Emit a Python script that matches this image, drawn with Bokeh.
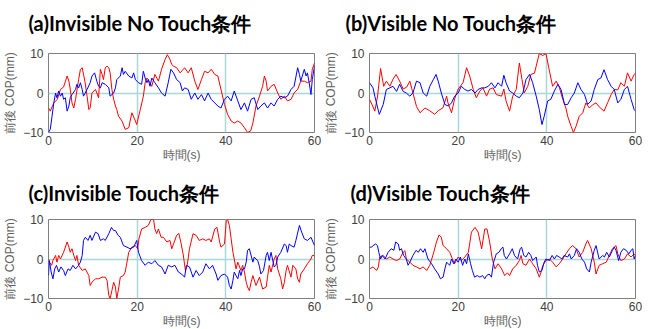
from bokeh.plotting import figure
from bokeh.layouts import row, column
from bokeh.models import FixedTicker, Range1d, Title
from bokeh.embed import file_html
from bokeh.resources import INLINE

X_TICKS = [0, 20, 40, 60]
Y_TICKS = [-10, 0, 10]
X_GRID = [20, 40]
Y_GRID = [0]
TITLES = ["(a)Invisible No Touch条件", "(b)Visible No Touch条件",
          "(c)Invisible Touch条件", "(d)Visible Touch条件"]
X_LABEL = "時間(s)"
Y_LABEL = "前後 COP(mm)"

# (time s, COP mm)
A_RED = [(0,-3.8),(0.4,-4.6),(1.2,-2.5),(2,-1.6),(2.7,0.9),(3.4,1.5),(4.2,4.3),(4.6,3),(4.9,1),(5.3,-2.5),(5.7,-3.8),(6.1,-1.6),(6.8,3.4),(7.2,6),(7.6,6.4),(8.2,3),(8.7,-0.8),(9.1,-4.2),(9.4,-3.8),(9.8,0),(10.6,0.9),(11.3,-1.2),(11.7,6),(12.1,4.7),(12.4,3.4),(12.8,6.4),(13.2,6.8),(13.6,6.4),(13.9,5.1),(14.3,0.9),(14.7,-1.6),(15.1,-3.3),(15.4,-4.2),(15.8,-5.9),(16.6,-7.1),(17.3,-9.2),(18.1,-8.8),(18.8,-5),(19.6,-7.1),(19.9,-8),(20.7,-4.2),(21.4,-0.8),(21.8,2.6),(22.2,3.8),(22.5,3.4),(23.3,1.7),(24,4.7),(24.8,3),(25.5,6),(26.3,8.5),(26.8,9.7),(27.4,8.5),(27.8,7.2),(28.2,6.8),(28.9,6.4),(29.7,5.1),(30.4,6),(30.7,6.4),(31.5,5.1),(32.2,6.4),(33,3),(33.7,0.9),(34.5,3.4),(35.2,5.5),(36,5.1),(36.7,6),(37.5,4.7),(38.2,4.3),(38.9,0.9),(39.7,-2.9),(40.4,-5.4),(41.2,-7.1),(41.9,-7.6),(42.7,-7.1),(43.4,-7.6),(44.2,-8.8),(44.9,-10),(45.6,-9.6),(46.1,-7.6),(46.8,-3.3),(47.6,-0.8),(48.3,1.7),(48.7,4.3),(49.1,3),(49.4,0.5),(50.2,1.7),(50.9,2.2),(51.7,0),(52.4,-1.6),(53.2,-0.8),(53.9,-2),(54.7,-1.6),(55.4,0),(56.2,0.9),(56.9,3),(57.7,3),(58.4,2.6),(59.2,3),(59.5,6),(60,7.6)]
A_BLUE = [(0,-10),(0.4,-9.2),(0.8,-5.9),(1.2,-2.5),(1.6,0),(1.9,-1.2),(2.3,0.5),(2.7,-0.8),(3.1,0),(3.4,-1.6),(3.8,-1.2),(4.2,-4.6),(4.6,-3.3),(4.9,-1.2),(5.3,-0.4),(6.1,0.9),(6.4,2.2),(6.8,1.3),(7.2,2.6),(7.6,0.9),(7.9,-0.8),(8.7,0.9),(9.4,2.6),(9.8,4.3),(10.4,5.1),(10.9,3),(11.3,1.7),(11.7,1.3),(12.1,2.6),(12.8,2.2),(13.6,1.3),(13.9,-0.8),(14.7,0),(15.1,1.3),(15.4,3.4),(16.2,4.3),(16.6,6.4),(16.9,4.7),(17.3,5.5),(18.1,4.3),(18.8,3.8),(19.2,5.1),(19.6,3.4),(20.3,2.6),(21,2.2),(21.4,5.5),(21.8,3.8),(22.2,2.6),(22.5,3.4),(22.9,1.7),(23.3,3.8),(24,2.6),(24.8,1.3),(25.5,0),(26.3,-0.8),(27,2.6),(27.6,6),(28.2,5.1),(28.9,3.4),(29.7,2.6),(30.2,0.5),(30.7,1.3),(31.5,0.9),(32.2,-1.6),(33,0),(33.7,-1.6),(34.5,-0.4),(35.2,-2),(36,0),(36.7,-1.6),(37.5,-2.5),(38.2,-3.3),(38.9,-3.8),(39.7,-1.6),(40.4,-0.8),(41.2,-2),(41.9,0.5),(42.7,-2),(43.4,-4.2),(44.2,-2.5),(44.9,-4.6),(45.7,-1.6),(46.4,-1.2),(47.2,-4.2),(47.9,-3.3),(48.7,-2.5),(49.4,-3.8),(50.2,-2.5),(50.9,-3.3),(51.7,-1.6),(52.4,-0.8),(53.2,-1.2),(53.9,-0.8),(54.7,0.9),(55.4,1.7),(56.2,6.4),(56.6,4.7),(56.9,3),(57.7,6),(58.1,4.3),(58.4,5.1),(58.8,2.6),(59.2,-0.4),(59.5,3.4),(60,6.8)]
B_RED = [(0,-1.6),(0.6,-3),(1.2,-4.6),(1.8,-1),(2.5,6.2),(3.2,1.7),(3.8,3),(4.6,1.7),(5.3,3.5),(6,4.7),(6.8,3),(7.6,1),(8.4,1.5),(9.1,3),(9.8,0),(10.6,-3.4),(11.4,-5),(12.5,-3.8),(13.6,-4.5),(14.7,-5.4),(15.5,-4.5),(16.6,-3.7),(17.4,-0.8),(17.7,-2.5),(18.5,-5),(19.2,-1.5),(20,1),(21.1,2.6),(21.9,6.4),(22.6,4.3),(23.4,0.9),(24.1,-1.2),(24.9,0.5),(25.6,1.3),(26.4,-0.8),(27.1,1),(27.9,1.3),(28.6,-0.4),(29.8,-0.8),(30.3,1),(30.8,-2),(31.6,-4.6),(32.3,-0.8),(33.1,0.9),(33.8,7.6),(34.4,3.4),(34.9,0),(35.7,1.7),(36.4,4.7),(37.2,5),(37.6,6.8),(38.3,10),(39.1,9.5),(39.8,10),(40.6,5.5),(41.3,1.7),(42.1,3),(42.8,1.5),(43.6,-1.6),(44.3,-3.8),(44.7,-5.9),(45.5,-8.5),(46,-10),(46.6,-8.4),(47.3,-5.9),(48.1,-5),(48.8,-2.5),(49.6,-3.8),(50.3,-3),(51.1,-2.5),(51.8,-3.5),(52.9,-4.6),(53.7,-2.5),(54.5,-0.4),(55.2,0.9),(56,0.8),(56.7,2.6),(57.5,1.7),(58.2,5.1),(59,3),(59.7,4.7),(60,5)]
B_BLUE = [(0,2.6),(0.8,1.3),(1.2,-0.8),(2.2,-5.4),(3.1,-2.9),(3.8,0.9),(4.6,1.3),(5.3,1.7),(6.1,0.4),(6.8,2.2),(7.6,0.4),(8.3,0),(9.1,-0.8),(9.8,0),(10.6,3),(11.4,2.6),(12.1,0),(12.9,-0.8),(13.6,1.7),(14.4,3.4),(15,4.7),(15.5,3),(16.2,0),(17,-2.9),(17.8,-3.3),(18.5,-2.5),(19.2,-0.8),(20,0),(20.7,1.7),(21.5,0.9),(22.2,0.5),(23,0.9),(23.8,0),(24.5,0.9),(25.3,1.3),(26,1.3),(26.8,1.7),(27.5,2.6),(28.3,1.3),(29,2.6),(29.8,1.7),(30.3,4.5),(30.8,2.6),(31.6,0.5),(32.3,0),(33.1,-0.8),(33.8,-1.2),(34.6,0),(35.3,3.4),(36.1,4.7),(36.8,2.6),(37.6,-0.8),(38.3,-4.2),(38.9,-8),(39.4,-5.9),(40.2,-2),(40.9,-1.6),(41.7,0.5),(42.5,2.2),(43.2,0.9),(44,-2.9),(44.7,-2.9),(45.5,-1.2),(46.2,0),(47,2.6),(47.7,0.9),(48.5,-0.4),(49.2,-2.9),(50,-2),(50.7,0.9),(51.5,3.4),(52.2,3.8),(52.9,5.9),(53.7,3.4),(54.5,1.7),(55.2,0.9),(56,-2.5),(56.7,-1.6),(57.5,0.9),(58.2,1.7),(59,-1.6),(59.7,-4.2),(60,-4.6)]
C_RED = [(0,0),(0.2,-0.8),(0.7,-1.6),(1,-0.4),(1.6,0.9),(1.9,-0.8),(2.3,0.9),(2.7,0),(3.4,1.7),(4.2,4.3),(4.6,3),(4.9,1.7),(5.3,2.6),(5.7,0.9),(6.1,-0.4),(6.4,0.9),(6.8,-1.6),(7.6,-2.9),(8.3,-2.5),(9.1,-4.2),(9.4,-6.7),(9.8,-5.9),(10.6,-5),(11.3,-5),(12.1,-4.6),(12.8,-4.6),(13.2,-5.4),(13.6,-9.2),(13.9,-10),(14.3,-8),(14.7,-5.9),(15.1,-7.1),(15.4,-10),(15.8,-7.6),(16.2,-4.6),(16.9,-4.2),(17.3,-3.3),(17.7,-0.8),(18.1,1.7),(18.8,3),(19.6,3.4),(20.1,2.6),(20.4,5.1),(21,7.6),(21.8,8),(22.5,8.5),(23.1,10),(23.7,10),(24,7.6),(24.4,6.4),(24.8,7.6),(25.4,5.5),(25.9,5.5),(26.7,4.3),(27.4,4.7),(27.8,2.6),(28.2,3.8),(28.9,6),(29.4,6.5),(29.9,4),(30.4,1),(30.9,-3),(31.3,-1.5),(31.8,2.6),(32.6,6.4),(33.3,6),(34,4.7),(34.8,5.1),(35.5,4.7),(36.3,5.1),(36.7,4.3),(37.5,7.6),(38,8),(38.2,6.8),(38.6,4.3),(38.9,3),(39.7,3.8),(40.1,9.7),(40.4,10),(40.8,8.5),(41.2,5.1),(41.6,1.7),(41.9,0),(42.3,-2.5),(42.7,-0.8),(43.4,-2.9),(43.8,-1.6),(44.2,-3.3),(44.6,-5.9),(44.9,-7.1),(45.3,-8),(45.7,-5.9),(46.1,-4.2),(46.8,-6.7),(47.6,-4.6),(48.3,-7.6),(49.1,-7.1),(49.4,-4.6),(49.8,-1.6),(50.2,-3.3),(50.9,0),(51.3,0.9),(51.7,-2.5),(52.4,-5),(52.8,-7.6),(53.2,-5.9),(53.6,-2.9),(53.9,-1.6),(54.7,-4.6),(55.1,-1.6),(55.8,-2.5),(56.2,-5),(56.6,-5.9),(56.9,-3.8),(57.7,-2.5),(58.4,-1.2),(59.2,0),(59.5,0.9),(60,0.9)]
C_BLUE = [(0,-4.2),(0.2,-0.4),(0.6,-3.3),(1,-5),(1.4,-2.5),(1.8,-1.6),(2.3,-3.3),(2.8,-2),(3.4,-2.9),(3.8,-4.2),(4.4,-2.5),(4.9,-2.9),(5.5,-1.6),(6.1,-2.5),(6.8,-1.6),(7.2,-0.8),(7.6,0.9),(7.9,4.7),(8.3,5.5),(8.9,4.7),(9.4,6),(9.8,4.7),(10.6,6.8),(11.2,6.4),(11.7,4.7),(12.4,5.1),(12.8,4.7),(13.6,6.4),(14.2,8),(14.7,7.2),(15.1,7.2),(15.7,6),(16.2,5.5),(16.9,3.4),(17.7,3),(18.4,2.6),(19.2,3),(19.9,4.7),(20.3,1.7),(21,-0.4),(21.8,-1.6),(22.5,-0.8),(23.3,-1.2),(24,-0.4),(24.8,-1.6),(25.5,-2),(26.3,-3.8),(27,-1.6),(27.8,-2),(28.5,-1.6),(29.3,-3.3),(30,-3.8),(30.7,-4.6),(31.1,-1.6),(31.8,-2),(32.6,-4.6),(33.3,-2.9),(34,-4.2),(34.8,-3.3),(35.5,-1.2),(36.3,-2.5),(37,-1.6),(37.8,-3.8),(38.2,-5.4),(38.9,-4.2),(39.7,-3.8),(40.4,-4.6),(40.8,-6.7),(41.2,-7.6),(41.6,-5.4),(41.9,-3.3),(42.3,-4.2),(42.7,-5),(43.1,-2.9),(43.4,-4.2),(43.8,-2.5),(44.2,-2.5),(44.6,-0.8),(44.9,2.2),(45.3,2.6),(46.1,-0.8),(46.4,0.5),(46.8,0),(47.2,-0.4),(47.6,-2),(47.9,-3.8),(48.5,-2.9),(49.1,0.9),(49.4,1.7),(49.8,-0.4),(50.2,1.7),(50.9,-2),(51.3,-1.6),(51.7,0.5),(52.4,1.7),(53.2,3.8),(53.6,3.4),(53.9,1.7),(54.3,3.8),(54.7,3.4),(55.4,3),(55.8,4.7),(56.6,8.5),(57.1,6.8),(57.7,5.1),(58.4,4.7),(59.2,5.5),(60,3.4)]
D_RED = [(0,-2.5),(0.8,-2),(1.6,-2.9),(2,-2),(2.3,0.5),(3.1,0.9),(3.8,0),(4.6,0.5),(5.3,0),(6.1,-0.4),(6.8,0),(7.6,1.7),(8,2.1),(8.3,0),(9.1,-0.8),(9.8,-1.6),(10.6,-2),(11.4,-2.5),(12.1,-2),(12.9,-2.9),(13.6,-1.6),(14.4,1.3),(15.1,4.3),(15.7,6.1),(16.2,5.5),(16.6,3.4),(17,3),(17.4,2.6),(18.1,1.7),(18.7,0),(19.2,-1.2),(20,0.5),(20.7,-0.4),(21.5,0.5),(22.3,1.7),(23,6.8),(23.8,8),(24.5,6.8),(25.3,2.6),(26,7.6),(26.5,7.6),(27.1,4.3),(27.7,0),(28.3,-2.5),(29,-1.2),(29.8,-2.5),(30.5,-4.2),(31.1,-3.5),(31.6,-4.2),(32.3,-2.5),(33.1,-1.6),(33.8,-0.4),(34.2,0.9),(34.6,-1.2),(35.3,-1.6),(36.1,0),(36.8,-1.2),(37.6,-2.5),(38.3,-4.6),(38.7,-3.3),(39.1,-1.6),(39.8,-0.4),(40.6,0),(41.3,-0.8),(42.1,-2),(42.8,-1.2),(43.6,0),(44.3,1.3),(45.1,2.6),(45.8,3.4),(46.6,2.6),(47.3,0.5),(48.1,1.7),(48.8,3.8),(49.2,4.7),(50,2.6),(50.7,-0.8),(51.1,-3.8),(51.8,-1.6),(52.6,-1.2),(53.4,-0.8),(54.1,0.9),(54.8,2.6),(55.6,3.4),(56,1.3),(56.7,-0.4),(57.5,0),(58.2,1.3),(59,0.5),(59.7,1.3),(60,0.9)]
D_BLUE = [(0,3),(0.5,3),(0.8,3.4),(1.4,3.8),(1.8,3.4),(2.1,1.7),(2.5,0),(2.9,0.9),(3.5,0),(4.2,1.7),(4.9,2.6),(5.5,2.2),(5.9,4.3),(6.5,3.8),(6.8,2.2),(7.2,2.6),(7.7,0.9),(8.3,0),(8.7,-1.6),(9.1,-0.8),(9.8,0.9),(10.5,2.2),(11,1.7),(11.5,2.6),(12.1,1.7),(12.5,2.6),(13.2,0),(14,-1.2),(14.7,-2.5),(15.5,-3.8),(16,-5),(16.6,-4.6),(17,-2.5),(17.4,-0.8),(18.1,-1.6),(18.5,0),(19,-1.2),(19.5,0),(20,-0.8),(20.5,0.5),(21,-1.6),(21.5,0),(21.9,-1.2),(22.3,1.3),(22.8,-1.2),(23.2,-2.9),(23.7,-4.6),(24.3,-4.2),(24.9,-4.6),(25.5,-4.2),(26,-5),(26.4,-4.2),(27,-3.8),(27.5,-4.6),(28,-0.8),(28.6,1.3),(29.2,1.7),(29.7,2.6),(30.1,3),(30.4,0.9),(30.9,0),(31.6,1.3),(32.2,2.6),(32.7,0.9),(33.4,0),(34,2.6),(34.3,3),(34.8,0.9),(35.3,0.5),(35.9,1.7),(36.4,0.9),(36.8,-0.4),(37.6,0.5),(37.9,-1.6),(38.3,-3.3),(38.9,-2.9),(39.4,-0.8),(39.8,0),(40.6,-0.4),(41.2,0.9),(41.7,0),(42.2,0.9),(42.8,0.5),(43.4,0),(43.9,0.9),(44.7,0.5),(45.1,1.3),(45.5,0),(46.2,0.9),(46.7,2.6),(47.3,1.7),(47.9,0),(48.5,-0.8),(49,-2.5),(49.6,-3.3),(50,-0.8),(50.7,2.2),(51.1,3.4),(51.8,0),(52.6,0.9),(53,0.5),(53.5,1.7),(54.1,0.5),(54.8,2.2),(55.2,3),(55.6,2.2),(56.2,-0.4),(56.7,1.7),(57.3,2.6),(57.9,2.2),(58.5,1.3),(59,2.2),(59.4,2.6),(59.7,0),(60,0.9)]

RED = "#ff0000"
BLUE = "#0000ff"
GRID = "#a8d8d8"


def panel(title, red, blue, left, toffset, tstandoff, spacer):
    p = figure(frame_width=266, frame_height=79, output_backend="svg", toolbar_location=None,
               x_range=Range1d(0, 60), y_range=Range1d(-10, 10),
               min_border_left=left, min_border_right=7,
               min_border_top=0, min_border_bottom=0)
    if spacer is not None:
        # invisible blank title that sits between the panel title and the frame
        p.add_layout(Title(text=" ", text_font_size="8px", standoff=spacer,
                           text_color="white"), "above")
    p.title.text = title
    p.title.text_font = "Lato"
    p.title.text_font_style = "bold"
    p.title.text_font_size = "20px"
    p.title.text_color = "#000000"
    p.title.align = "left"
    p.title.offset = toffset
    p.title.standoff = tstandoff
    p.outline_line_color = "#7f7f7f"
    p.outline_line_width = 1
    p.background_fill_color = "white"
    p.border_fill_color = "white"
    p.xaxis.ticker = FixedTicker(ticks=X_TICKS)
    p.yaxis.ticker = FixedTicker(ticks=Y_TICKS)
    p.xgrid.ticker = FixedTicker(ticks=X_GRID)
    p.ygrid.ticker = FixedTicker(ticks=Y_GRID)
    p.grid.grid_line_color = GRID
    p.grid.grid_line_width = 1.5
    p.grid.level = "underlay"
    for ax in (p.xaxis, p.yaxis):
        ax.axis_line_color = None
        ax.major_tick_line_color = None
        ax.minor_tick_line_color = None
        ax.major_tick_out = 0
        ax.major_tick_in = 0
        ax.major_label_text_font = "Liberation Sans"
        ax.major_label_text_font_size = "12px"
        ax.major_label_text_color = "#404040"
        ax.axis_label_text_font = "Liberation Sans"
        ax.axis_label_text_font_size = "12px"
        ax.axis_label_text_font_style = "normal"
        ax.axis_label_text_color = "#606060"
    p.xaxis.axis_label = X_LABEL
    p.yaxis.axis_label = Y_LABEL
    p.xaxis.major_label_standoff = 3
    p.xaxis.axis_label_standoff = 0
    p.yaxis.major_label_standoff = 5
    p.yaxis.axis_label_standoff = 3
    p.line([t for t, _ in red], [v for _, v in red], line_color=RED, line_width=1)
    p.line([t for t, _ in blue], [v for _, v in blue], line_color=BLUE, line_width=1)
    return p


pa = panel(TITLES[0], A_RED, A_BLUE, 45, -20, 16, 0)
pb = panel(TITLES[1], B_RED, B_BLUE, 43, -24, 16, 0)
pc = panel(TITLES[2], C_RED, C_BLUE, 45, -20, 29, None)
pd = panel(TITLES[3], D_RED, D_BLUE, 43, -19, 29, None)

layout = column(row(pa, pb), row(pc, pd))
open("out.html", "w").write(file_html(layout, INLINE))
